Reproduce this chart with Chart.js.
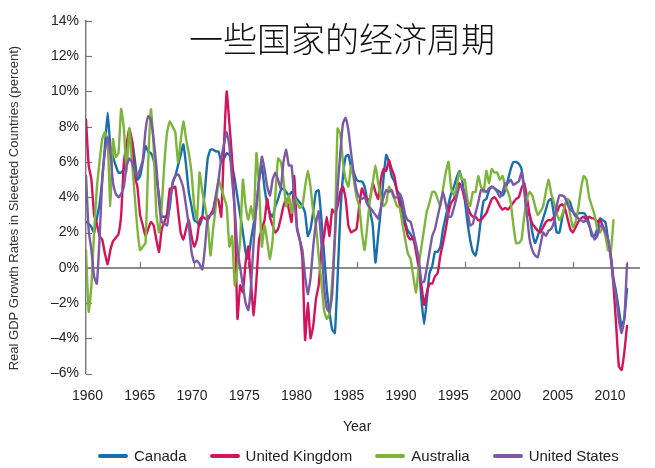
<!DOCTYPE html>
<html><head><meta charset="utf-8">
<script src="https://cdn.jsdelivr.net/npm/chart.js@4"></script>
<style>
html,body{margin:0;padding:0;background:#fff;}
#wrap{position:relative;width:655px;height:468px;}
#legend{position:absolute;left:98px;top:447px;display:flex;align-items:center;font:15px "Liberation Sans",Arial,sans-serif;color:#222;white-space:nowrap;}
.item{display:flex;align-items:center;margin-right:23px;}
.sw{display:inline-block;width:30px;height:4px;border-radius:2px;margin-right:6px;}
</style></head><body>
<div id="wrap"><canvas id="c" width="655" height="468"></canvas><div id="legend"></div></div>
<script>
// quarterly year-over-year real GDP growth (%), first point at 1960.0, step 0.25 year
const startYear = 1960;
const seriesNames = ['Canada', 'United Kingdom', 'Australia', 'United States'];
const seriesColors = ['#1a6eac', '#d4145a', '#7db53c', '#7d58a6'];

const canada = [
 2.6,2.5,2.3,2.0, 2.8,3.6,5.0,6.9, 8.8,6.9,6.3,5.8, 5.4,5.4,5.6,6.9, 7.3,7.2,6.2,5.0,
 5.2,6.0,6.9,6.6, 6.5,6.1,5.2,4.1, 2.9,2.9,2.9,3.5, 4.8,5.2,5.8,6.4, 7.0,5.8,4.3,3.5,
 2.7,2.6,2.4,2.9, 4.5,6.2,6.7,6.7, 6.6,6.6,6.0,6.2, 6.5,6.4,5.8,5.0, 4.0,3.0,2.0,0.9,
 0.5,1.6,2.5,3.5, 5.0,5.8,4.5,3.6, 3.1,2.9,3.5,3.9, 4.4,4.5,4.3,4.1, 4.3,4.1,3.9,3.7,
 3.5,3.1,1.8,2.2, 3.2,4.3,4.4,2.8, 0.8,-1.2,-2.5,-3.5, -3.7,-0.6,3.0,5.2, 6.3,6.4,5.7,5.4,
 5.0,4.9,4.9,4.6, 3.8,3.2,2.4,0.3, 1.8,3.3,5.1,6.4, 6.0,5.2,4.9,4.4, 4.1,3.3,2.6,2.1,
 1.9,1.6,1.1,0.3, -1.8,-3.2,-1.8,-0.3, 0.1,0.9,0.9,1.2, 2.2,2.9,3.6,4.2, 4.6,5.1,5.5,5.0,
 3.9,2.6,1.6,0.9, 0.7,1.5,2.8,3.8, 3.9,4.4,4.6,4.5, 4.4,4.3,4.1,4.4, 5.0,5.6,6.0,6.0,
 5.9,5.6,4.5,3.0, 3.0,2.0,1.4,1.8, 2.3,2.8,3.3,3.8, 3.9,3.0,2.0,2.0, 2.8,3.5,3.9,3.7,
 3.2,2.9,3.1,3.1, 3.1,2.9,2.5,1.8, 1.8,2.2,2.8,2.7, 2.6,1.6,0.7,-0.6, -1.4,-2.4,-3.3,-2.9,
 -1.2
];
const unitedKingdom = [
 8.4,5.8,5.0,3.0, 2.5,1.8,1.6,0.8, 0.2,1.0,1.5,1.7, 1.9,3.0,6.0,7.0, 7.9,7.2,5.2,4.6,
 3.0,2.4,1.8,2.2, 2.6,2.4,1.6,0.9, 2.2,2.6,3.1,4.5, 4.5,4.6,3.3,2.0, 1.6,2.2,2.7,1.8,
 1.2,1.6,2.7,2.9, 2.8,2.7,3.0,3.3, 4.0,3.8,2.9,6.9, 10.0,8.2,6.2,3.1, -2.9,-1.0,-1.4,0.3,
 1.2,-0.8,-2.7,-0.7, 1.6,2.2,2.7,3.9, 2.9,2.4,2.0,2.2, 2.8,3.5,3.9,3.3, 2.6,5.2,2.2,1.6,
 0.5,-4.1,-2.0,-4.0, -3.3,-1.8,-1.0,1.0, 1.8,2.9,1.8,3.3, 3.1,3.5,4.3,4.6, 3.9,2.4,2.0,2.1,
 2.2,3.5,4.5,4.1, 3.9,3.9,4.8,4.3, 3.9,5.0,5.6,5.5, 6.1,5.6,5.2,4.3, 3.6,2.7,2.4,1.8,
 1.6,1.7,0.9,0.0, -1.0,-2.1,-1.4,-0.9, -0.9,-0.5,-0.3,0.7, 1.4,2.2,3.1,3.7, 3.9,4.5,4.8,4.5,
 3.9,3.5,3.1,2.9, 2.9,2.7,2.7,2.9, 3.1,3.5,3.9,4.0, 3.8,3.5,3.3,3.4, 3.3,3.5,3.7,3.9,
 4.0,4.5,4.8,4.0, 3.0,2.5,2.3,2.1, 2.0,2.3,2.6,2.7, 2.7,2.9,3.1,3.5, 3.6,3.4,2.8,2.2,
 2.0,2.3,2.6,2.8, 2.9,2.7,2.9,2.8, 2.8,2.6,2.7,2.4, 2.0,1.5,0.6,-1.0, -3.3,-5.6,-5.8,-4.8,
 -3.3
];
const australia = [
 1.0,-2.5,-1.0,2.0, 4.5,6.0,7.3,7.7, 7.2,3.5,7.3,6.3, 6.5,9.0,7.9,5.4, 7.9,6.0,4.1,2.2,
 1.0,1.2,1.4,6.0, 9.0,6.9,3.1,2.0, 3.5,6.0,7.7,8.3, 8.0,7.7,6.0,7.2, 8.3,7.3,6.5,5.4,
 3.5,2.7,5.4,4.3, 3.5,2.6,0.7,2.2, 3.5,5.0,4.5,4.0, 3.5,1.2,1.8,-1.0, 0.1,1.6,5.0,3.5,
 2.7,3.5,2.7,6.5, 4.5,1.2,2.4,1.5, 0.5,1.6,4.1,6.2, 6.0,5.0,3.5,4.1, 3.1,4.0,3.7,3.4,
 3.5,4.6,5.5,4.6, 3.2,2.4,0.7,-0.8, -2.4,-2.9,-2.6,-0.8, 2.0,7.9,7.6,6.0, 5.0,4.6,5.8,5.0,
 4.0,3.5,2.0,1.0, 2.4,3.9,4.8,5.8, 4.8,4.0,3.5,3.7, 4.6,4.3,3.9,3.5, 3.4,2.5,1.6,0.8,
 0.5,-0.5,-1.4,0.1, 1.2,2.2,3.2,3.7, 4.3,4.3,3.9,3.5, 4.5,5.4,6.0,4.5, 4.1,4.6,5.4,5.0,
 5.0,3.9,3.5,4.3, 4.3,5.2,4.6,4.3, 5.5,4.8,5.6,5.4, 5.4,5.0,5.2,4.6, 4.3,3.7,2.4,1.4,
 1.4,1.6,2.9,3.9, 4.3,4.1,3.5,3.0, 3.2,3.5,4.3,5.0, 4.2,3.7,3.1,2.7, 3.0,3.5,3.9,3.0,
 2.3,2.6,3.4,4.5, 5.2,5.0,4.0,3.5, 3.0,2.2,2.0,2.3, 1.8,1.0,0.9,2.7
];
const unitedStates = [
 5.2,2.1,1.0,-0.5, -0.9,1.6,5.0,6.6, 7.4,6.5,4.8,4.2, 4.0,4.2,4.6,5.8, 6.2,6.0,5.5,5.2,
 5.6,6.1,7.8,8.6, 8.4,7.3,5.8,3.7, 2.6,2.5,2.4,3.7, 4.8,5.2,5.3,5.0, 4.5,3.5,2.4,0.9,
 0.3,0.4,0.2,-0.1, 1.2,2.9,3.0,3.1, 4.1,5.0,6.2,7.0, 7.7,6.9,5.0,3.3, 1.0,0.0,-1.0,-2.0,
 -2.4,-1.0,1.5,3.5, 5.0,6.3,5.6,4.6, 4.1,5.0,5.4,5.0, 4.5,6.0,6.7,5.8, 5.8,3.9,2.3,1.6,
 1.0,-0.5,-1.5,-0.6, 1.2,2.5,3.2,1.4, -1.0,-2.3,-2.5,-1.5, 1.6,4.5,6.5,8.2, 8.5,7.8,6.5,5.3,
 4.4,4.0,3.9,4.0, 3.6,3.4,3.2,3.0, 2.8,3.4,4.0,4.4, 4.3,4.4,4.0,4.0, 4.2,3.8,3.0,2.7,
 2.6,2.0,1.3,0.5, -0.8,-0.8,0.0,0.9, 1.8,2.2,2.9,3.6, 4.3,3.6,2.9,2.9, 3.4,4.0,4.6,4.6,
 4.2,3.3,2.4,2.5, 3.1,3.7,4.4,4.4, 4.3,4.5,4.6,4.5, 4.3,4.0,4.3,4.8, 4.8,5.0,4.7,4.8,
 4.9,5.4,4.4,3.0, 1.6,1.0,0.7,0.6, 1.3,2.0,1.8,2.1, 2.2,2.6,3.5,4.1, 4.1,4.0,3.6,3.3,
 3.2,3.0,2.8,2.7, 2.6,2.7,2.4,2.0, 1.6,1.8,2.4,2.3, 2.0,1.6,0.6,-0.8, -1.6,-3.0,-3.7,-2.9,
 0.2
];

const xTickValues = [1960, 1965, 1970, 1975, 1980, 1985, 1990, 1995, 2000, 2005, 2010];
const yTickValues = [-6, -4, -2, 0, 2, 4, 6, 8, 10, 12, 14];
const yTickLabels = ['\u20136%', '\u20134%', '\u20132%', '0%', '2%', '4%', '6%', '8%', '10%', '12%', '14%'];
const chartTitle = '一些国家的经济周期';
const xTitle = 'Year';
const yTitle = 'Real GDP Growth Rates in Sleected Countries (percent)';

const allSeries = [canada, unitedKingdom, australia, unitedStates];
const drawOrder = [4, 3, 2, 1];

const FONT = '"Liberation Sans", Arial, sans-serif';

const datasets = allSeries.map((s, k) => ({
  label: seriesNames[k],
  data: s.map((v, i) => ({ x: startYear + i * 0.25, y: v })),
  xAxisID: 'x',
  borderColor: seriesColors[k],
  backgroundColor: seriesColors[k],
  borderWidth: 2.4,
  pointRadius: 0,
  tension: 0.15,
  borderJoinStyle: 'round',
  borderCapStyle: 'round',
  order: drawOrder[k],
  fill: false
}));

const decor = {
  id: 'decor',
  beforeDatasetsDraw(chart) {
    const ctx = chart.ctx, xs = chart.scales.x, ys = chart.scales.y;
    ctx.save();
    ctx.strokeStyle = '#777';
    ctx.lineWidth = 1.2;
    const left = chart.chartArea.left;
    yTickValues.forEach(v => {
      const py = Math.round(ys.getPixelForValue(v)) + 0.5;
      ctx.beginPath(); ctx.moveTo(left, py); ctx.lineTo(left + 6, py); ctx.stroke();
    });
    const y0 = ys.getPixelForValue(0);
    xTickValues.slice(1).forEach(t => {
      const px = Math.round(xs.getPixelForValue(t)) + 0.5;
      ctx.beginPath(); ctx.moveTo(px, y0); ctx.lineTo(px, y0 - 6); ctx.stroke();
    });
    ctx.restore();
  },
  afterDraw(chart) {
    const ctx = chart.ctx;
    ctx.save();
    ctx.fillStyle = '#111';
    ctx.font = '300 34px "Noto Sans CJK SC", "Noto Sans CJK JP", sans-serif';
    ctx.textAlign = 'center';
    ctx.textBaseline = 'middle';
    ctx.fillText(chartTitle, 342, 39);
    ctx.restore();
  }
};

new Chart(document.getElementById('c'), {
  type: 'line',
  data: { datasets },
  options: {
    responsive: false,
    animation: false,
    devicePixelRatio: 1,
    layout: { padding: { top: 21, right: 15, left: 0, bottom: 0 } },
    plugins: { legend: { display: false }, tooltip: { enabled: false }, title: { display: false } },
    scales: {
      x: {
        type: 'linear',
        display: false,
        min: 1960,
        max: 2011.2
      },
      xl: {
        type: 'linear',
        position: 'bottom',
        min: 1959.86,
        max: 2012.87,
        afterFit: s => { s.height = 94.5; },
        afterBuildTicks: s => { s.ticks = xTickValues.map(v => ({ value: v })); },
        grid: { display: false, drawTicks: false },
        border: { display: false },
        ticks: { padding: 14, color: '#222', font: { family: FONT, size: 14 }, maxRotation: 0, autoSkip: false, callback: v => String(v) },
        title: { display: true, text: xTitle + '   ', color: '#222', font: { family: FONT, size: 14 }, padding: { top: 4, bottom: 32 } }
      },
      y: {
        min: -6,
        max: 14,
        afterFit: s => { s.width = 86; },
        afterBuildTicks: s => { s.ticks = yTickValues.map(v => ({ value: v })); },
        grid: {
          drawTicks: false,
          color: c => (c.tick && c.tick.value === 0) ? '#8a8a8a' : 'rgba(0,0,0,0)',
          lineWidth: c => (c.tick && c.tick.value === 0) ? 2 : 0
        },
        border: { display: true, color: '#777', width: 1.4 },
        ticks: { padding: 7, color: '#222', font: { family: FONT, size: 14 },
          callback: (v) => yTickLabels[yTickValues.indexOf(v)] },
        title: { display: true, text: yTitle + '      ', color: '#333', font: { family: FONT, size: 13 }, padding: { top: 7, bottom: 0 } }
      }
    }
  },
  plugins: [decor]
});

const leg = document.getElementById('legend');
seriesNames.forEach((n, k) => {
  const it = document.createElement('span'); it.className = 'item';
  const sw = document.createElement('span'); sw.className = 'sw'; sw.style.background = seriesColors[k];
  const tx = document.createElement('span'); tx.textContent = n;
  it.appendChild(sw); it.appendChild(tx); leg.appendChild(it);
});
</script>
</body></html>
